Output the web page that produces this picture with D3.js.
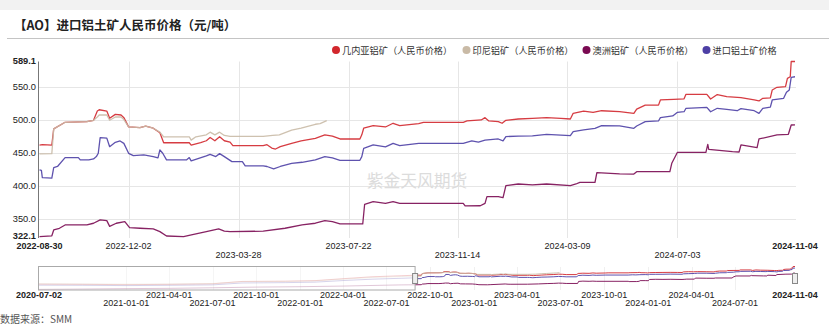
<!DOCTYPE html>
<html><head><meta charset="utf-8">
<script src="https://cdn.jsdelivr.net/npm/d3@7"></script>
<style>
body{margin:0;background:#fff;}
svg{display:block;font-family:"Liberation Sans",Arial,sans-serif;}
</style>
</head><body>
<svg id="c" width="829" height="327"></svg>
<script>
// ---------------- DATA ----------------
const titleText = "【AO】进口铝土矿人民币价格（元/吨）";
const sourceText = "数据来源：SMM";
const watermarkText = "紫金天风期货";
const seriesNames = ["几内亚铝矿（人民币价格）", "印尼铝矿（人民币价格）", "澳洲铝矿（人民币价格）", "进口铝土矿价格"];
const seriesColors = ["#d2272d", "#c9baa6", "#7a0a52", "#4d3fa5"];
const yTicks = [322.1, 350, 400, 450, 500, 550, 589.1];
const xTicks = ["2022-08-30", "2022-12-02", "2023-03-28", "2023-07-22", "2023-11-14", "2024-03-09", "2024-07-03", "2024-11-04"];
const navTicks = ["2020-07-02", "2021-01-01", "2021-04-01", "2021-07-01", "2021-10-01", "2022-01-01", "2022-04-01", "2022-07-01", "2022-10-01", "2023-01-01", "2023-04-01", "2023-07-01", "2023-10-01", "2024-01-01", "2024-04-01", "2024-07-01", "2024-11-04"];
const viewRange = ["2022-08-30", "2024-11-04"];
const fullRange = ["2020-07-02", "2024-11-04"];

const guinea = [
 ["2020-07-02",333],["2020-10-01",330],["2021-01-01",326],["2021-04-01",330],["2021-07-01",338],["2021-09-01",372],["2021-12-01",376],["2022-02-01",384],["2022-04-01",412],["2022-06-01",440],["2022-08-01",455],
 ["2022-08-30",462.5],["2022-09-02",463],["2022-09-12",462.5],["2022-09-14",487],["2022-09-26",497],["2022-10-19",498],["2022-10-26",500],["2022-10-30",514],["2022-11-01",516],["2022-11-09",514],["2022-11-12",503],["2022-11-18",509],["2022-11-24",508],["2022-11-27",504],["2022-12-02",490],["2022-12-14",489],["2022-12-20",491],["2022-12-28",488],
 ["2023-01-04",481],["2023-01-08",466],["2023-02-04",466],["2023-02-06",462.5],["2023-02-16",466],["2023-02-22",469],["2023-02-26",474],["2023-03-03",469],["2023-03-08",475],["2023-03-13",469],["2023-03-19",467],["2023-03-22",461.5],["2023-04-23",461.5],["2023-04-27",463],["2023-05-02",458],["2023-05-06",456.5],["2023-05-11",460],["2023-05-23",465],["2023-06-02",468.7],["2023-06-17",472.7],["2023-06-27",477.8],["2023-07-05",476],["2023-07-13",471.7],["2023-08-03",471.7],["2023-08-05",478],["2023-08-07",488],["2023-08-17",492],["2023-08-30",489.9],["2023-09-07",495.5],["2023-09-14",492],["2023-10-04",495],["2023-10-09",497],["2023-11-20",497],["2023-11-24",499],["2023-12-09",500.5],["2023-12-13",504],["2023-12-17",499],["2023-12-27",498],["2023-12-31",495.5],
 ["2024-01-04",500],["2024-01-17",502],["2024-02-01",503],["2024-02-16",504],["2024-03-02",503],["2024-03-12",502],["2024-03-15",510.6],["2024-03-26",514],["2024-04-05",512],["2024-04-14",514.5],["2024-05-03",513],["2024-05-18",510.6],["2024-05-21",517],["2024-05-30",523],["2024-06-13",523],["2024-06-15",530.8],["2024-06-29",531.8],["2024-07-10",532.5],["2024-07-12",539.4],["2024-08-03",539.4],["2024-08-07",532.3],["2024-08-14",539],["2024-08-24",536],["2024-09-08",534.3],["2024-09-22",530.8],["2024-09-27",529.3],["2024-10-01",533.3],["2024-10-09",534],["2024-10-11",546],["2024-10-16",550],["2024-10-25",551],["2024-10-27",563.6],["2024-10-30",566],["2024-10-31",589.1],["2024-11-04",589.1]
];
const indonesia = [
 ["2020-07-02",340],["2020-10-01",336],["2021-01-01",332],["2021-04-01",335],["2021-07-01",342],["2021-09-01",370],["2021-12-01",372],["2022-02-01",380],["2022-04-01",405],["2022-06-01",430],["2022-08-01",444],
 ["2022-08-30",449],["2022-09-12",449.5],["2022-09-14",487],["2022-09-26",497],["2022-10-19",498],["2022-10-26",500],["2022-10-30",505],["2022-11-01",508],["2022-11-09",508],["2022-11-12",500],["2022-11-18",505],["2022-11-24",505],["2022-11-27",501],["2022-12-02",490],["2022-12-14",489],["2022-12-20",491],["2022-12-28",488],
 ["2023-01-04",482],["2023-01-08",475],["2023-02-04",475],["2023-02-06",470],["2023-02-11",475],["2023-02-22",478],["2023-02-26",482],["2023-03-03",478],["2023-03-08",482],["2023-03-13",477],["2023-03-19",475.5],["2023-04-23",475.5],["2023-05-03",477],["2023-05-10",478],["2023-05-23",485],["2023-06-02",488],["2023-06-17",494],["2023-06-22",495],["2023-06-29",499.5]
];
const australia = [
 ["2020-07-02",257],["2020-10-01",262],["2021-01-01",268],["2021-04-01",272],["2021-07-01",280],["2021-10-01",290],["2022-01-01",296],["2022-04-01",305],["2022-07-01",318],["2022-08-01",322],
 ["2022-08-30",323.7],["2022-09-12",325],["2022-09-14",333.8],["2022-09-20",336.4],["2022-09-26",341.4],["2022-10-19",341.4],["2022-10-26",344],["2022-11-02",349],["2022-11-09",348],["2022-11-12",339.3],["2022-11-19",344],["2022-11-28",346.5],["2022-12-03",337.4],["2022-12-14",336.4],["2022-12-28",335.5],
 ["2023-01-04",331.3],["2023-01-11",324.7],["2023-01-29",323.7],["2023-02-05",326],["2023-02-22",331.3],["2023-03-07",335.4],["2023-03-13",332],["2023-03-19",331.3],["2023-04-23",332],["2023-05-16",336.4],["2023-06-03",341.4],["2023-06-17",344],["2023-06-27",348],["2023-07-05",346.5],["2023-07-13",342.9],["2023-08-06",342.9],["2023-08-08",372.7],["2023-08-17",376.8],["2023-08-30",374.2],["2023-09-07",376.8],["2023-09-14",374.2],["2023-11-20",374.2],["2023-11-22",370.2],["2023-12-08",370.5],["2023-12-13",374.2],["2023-12-15",384.3],["2023-12-27",384.3],
 ["2024-01-01",382.8],["2024-01-04",401],["2024-01-17",403.5],["2024-02-01",402],["2024-02-16",403.5],["2024-03-12",401],["2024-03-18",403.5],["2024-03-22",406],["2024-04-07",406],["2024-04-09",420.7],["2024-05-03",418.7],["2024-05-18",418.5],["2024-05-21",422.2],["2024-06-25",422.2],["2024-06-27",434.8],["2024-07-03",451.5],["2024-08-02",451.5],["2024-08-04",463.6],["2024-08-05",456],["2024-08-30",452.5],["2024-09-06",452],["2024-09-08",462.6],["2024-09-25",458.6],["2024-09-27",471.7],["2024-10-16",477.8],["2024-10-28",478.8],["2024-10-31",492.9],["2024-11-04",493]
];
const imported = [
 ["2020-07-02",318],["2020-10-01",316],["2021-01-01",312],["2021-04-01",316],["2021-07-01",322],["2021-09-01",350],["2021-12-01",355],["2022-02-01",362],["2022-04-01",385],["2022-06-01",405],["2022-08-01",418],
 ["2022-08-30",424.7],["2022-09-01",424],["2022-09-02",413],["2022-09-12",412.5],["2022-09-14",428.3],["2022-09-18",430],["2022-09-26",443.4],["2022-10-10",443.4],["2022-10-12",440],["2022-10-21",440],["2022-10-26",441.5],["2022-10-29",445],["2022-10-31",450],["2022-11-02",473.7],["2022-11-09",473],["2022-11-12",460],["2022-11-18",466.7],["2022-11-23",468.7],["2022-11-27",465],["2022-12-02",450],["2022-12-07",446.5],["2022-12-18",447.5],["2022-12-28",445],
 ["2023-01-02",443],["2023-01-04",455],["2023-01-07",450],["2023-01-11",440],["2023-02-01",440],["2023-02-04",443.5],["2023-02-06",438.5],["2023-02-22",446],["2023-02-26",448.5],["2023-03-04",445],["2023-03-08",449.5],["2023-03-13",445],["2023-03-21",437.4],["2023-04-01",437.4],["2023-04-04",430.8],["2023-04-23",430.8],["2023-04-27",430],["2023-05-04",426.3],["2023-05-11",430],["2023-05-23",434.8],["2023-06-03",436.4],["2023-06-17",440],["2023-06-27",445],["2023-07-05",443],["2023-07-13",439.4],["2023-08-03",439.4],["2023-08-05",445],["2023-08-07",457.6],["2023-08-17",462.6],["2023-08-30",459.6],["2023-09-07",465],["2023-09-14",461.6],["2023-10-04",465],["2023-11-20",465],["2023-11-29",468.7],["2023-12-06",467],["2023-12-13",470],["2023-12-27",471.7],
 ["2024-01-01",468.7],["2024-01-04",475.3],["2024-01-17",476],["2024-02-01",476.5],["2024-02-16",478.8],["2024-03-12",476.8],["2024-03-15",482.8],["2024-03-26",485.4],["2024-04-07",487.9],["2024-04-14",491.9],["2024-05-03",491.4],["2024-05-18",487.9],["2024-05-21",491.4],["2024-05-30",498],["2024-06-13",499],["2024-06-15",504],["2024-06-28",506.6],["2024-07-03",512.1],["2024-07-10",513],["2024-07-12",518.2],["2024-08-03",519.7],["2024-08-07",513],["2024-08-14",518.2],["2024-08-24",516.7],["2024-09-04",514.5],["2024-09-08",517.7],["2024-09-22",514.5],["2024-09-27",510.6],["2024-10-01",518.2],["2024-10-09",520],["2024-10-11",530.8],["2024-10-23",533.3],["2024-10-26",542.4],["2024-10-29",546],["2024-10-31",565.2],["2024-11-04",566]
];
const allSeries = [guinea, indonesia, australia, imported];

// ---------------- DRAW ----------------
const parse = d3.timeParse("%Y-%m-%d");
const svg = d3.select("#c");

// header
svg.append("rect").attr("x",0).attr("y",0).attr("width",829).attr("height",10).attr("fill","#f2f2f2");
svg.append("text").attr("x",14).attr("y",30).attr("font-size",12.5).attr("font-weight","bold")
  .attr("font-family","'Noto Sans CJK SC',sans-serif").attr("fill","#222").text(titleText);
svg.append("line").attr("x1",7).attr("x2",829).attr("y1",38.5).attr("y2",38.5).attr("stroke","#c4c4c4");

// legend
const legendX = [336, 466.5, 586.5, 706.5];
seriesNames.forEach((n,i)=>{
  svg.append("circle").attr("cx",legendX[i]).attr("cy",50).attr("r",4).attr("fill",seriesColors[i]);
  svg.append("text").attr("x",legendX[i]+6).attr("y",53.5).attr("font-size",9.2)
    .attr("font-family","'Noto Sans CJK SC',sans-serif").attr("fill","#333").text(n);
});

// scales
const x = d3.scaleTime().domain(viewRange.map(parse)).range([39.5, 795]);
const y = d3.scaleLinear().domain([yTicks[0], yTicks[yTicks.length-1]]).range([237.7, 61.5]);

// grid
const g = svg.append("g");
g.selectAll(".hg").data(yTicks.slice(1,-1)).join("line")
  .attr("x1",39).attr("x2",796).attr("y1",d=>Math.round(y(d))+0.5).attr("y2",d=>Math.round(y(d))+0.5)
  .attr("stroke","#e6e6e6");
g.selectAll(".vg").data(xTicks.slice(1,-1).map(parse)).join("line")
  .attr("x1",d=>Math.round(x(d))+0.5).attr("x2",d=>Math.round(x(d))+0.5).attr("y1",61.5).attr("y2",238)
  .attr("stroke","#e6e6e6");

// watermark
svg.append("text").attr("x",417).attr("y",187).attr("text-anchor","middle").attr("font-size",16.8)
  .attr("font-family","'Noto Sans CJK SC',sans-serif").attr("fill","#dcdcdc").text(watermarkText);

// clip
svg.append("clipPath").attr("id","clipMain").append("rect").attr("x",39).attr("y",55).attr("width",758).attr("height",186);
const line = d3.line().x(d=>x(parse(d[0]))).y(d=>y(d[1]));
const lines = svg.append("g").attr("clip-path","url(#clipMain)");
allSeries.forEach((s,i)=>{
  lines.append("path").datum(s.filter(d=>parse(d[0])>=parse(viewRange[0]))).attr("d",line)
    .attr("fill","none").attr("stroke",seriesColors[i]).attr("stroke-width",1.3).attr("stroke-opacity",0.9)
    .attr("stroke-linejoin","round");
});

// y axis
svg.append("line").attr("x1",38.5).attr("x2",38.5).attr("y1",61.5).attr("y2",238).attr("stroke","#777");
svg.selectAll(".yl").data(yTicks).join("text")
  .attr("x",36).attr("y",(d,i)=>i===0?239.3:y(d)+2.9).attr("text-anchor","end").attr("font-size",9.3)
  .attr("font-weight",(d,i)=>(i===0||i===yTicks.length-1)?"bold":"normal")
  .attr("fill","#222").text(d=>d3.format(".1f")(d));

// x axis labels (staggered rows)
svg.selectAll(".xl").data(xTicks).join("text")
  .attr("x",d=>x(parse(d))).attr("y",(d,i)=>(i%2===0 && i!==0 && i!==xTicks.length-1)?258.3:249.3)
  .attr("text-anchor","middle").attr("font-size",9)
  .attr("font-weight",(d,i)=>(i===0||i===xTicks.length-1)?"bold":"normal")
  .attr("fill","#222").text(d=>d);

// navigator
const xN = d3.scaleTime().domain(fullRange.map(parse)).range([39, 795]);
const yN = d3.scaleLinear().domain([248, 589.1]).range([290, 266.5]);
const nav = svg.append("g");
nav.selectAll(".ng").data(navTicks.slice(1,-1).map(parse)).join("line")
  .attr("x1",d=>Math.round(xN(d))+0.5).attr("x2",d=>Math.round(xN(d))+0.5).attr("y1",267).attr("y2",290)
  .attr("stroke","#f0f0f0");
const lineN = d3.line().x(d=>xN(parse(d[0]))).y(d=>yN(d[1]));
svg.append("clipPath").attr("id","clipSel").append("rect").attr("x",xN(parse(viewRange[0]))).attr("y",260).attr("width",400).attr("height",35);
svg.append("clipPath").attr("id","clipUn").append("rect").attr("x",30).attr("y",260).attr("width",xN(parse(viewRange[0]))-30).attr("height",35);
allSeries.forEach((s,i)=>{
  nav.append("path").datum(s).attr("d",lineN).attr("fill","none").attr("stroke",seriesColors[i])
    .attr("stroke-width",1).attr("stroke-opacity",0.35).attr("clip-path","url(#clipUn)");
  nav.append("path").datum(s).attr("d",lineN).attr("fill","none").attr("stroke",seriesColors[i])
    .attr("stroke-width",1).attr("stroke-opacity",0.9).attr("clip-path","url(#clipSel)");
});
const selX = xN(parse(viewRange[0]));
nav.append("rect").attr("x",38.5).attr("y",266.5).attr("width",selX-38.5).attr("height",23.5)
  .attr("fill","#ffffff").attr("fill-opacity",0.35).attr("stroke","#aaaaaa");
[selX, xN(parse(viewRange[1]))].forEach(hx=>{
  nav.append("rect").attr("x",hx-2.5).attr("y",273.5).attr("width",5).attr("height",10)
    .attr("fill","#eeeeee").attr("stroke","#888");
});
nav.selectAll(".nl").data(navTicks).join("text")
  .attr("x",d=>xN(parse(d))).attr("y",(d,i)=>i%2===0?297.5:306).attr("text-anchor","middle").attr("font-size",9)
  .attr("font-weight",(d,i)=>(i===0||i===navTicks.length-1)?"bold":"normal")
  .attr("fill","#222").text(d=>d);

// source
svg.append("text").attr("x",0).attr("y",322.5).attr("font-size",10)
  .attr("font-family","'Noto Sans CJK SC',sans-serif").attr("fill","#555").text(sourceText);
</script>
</body></html>
